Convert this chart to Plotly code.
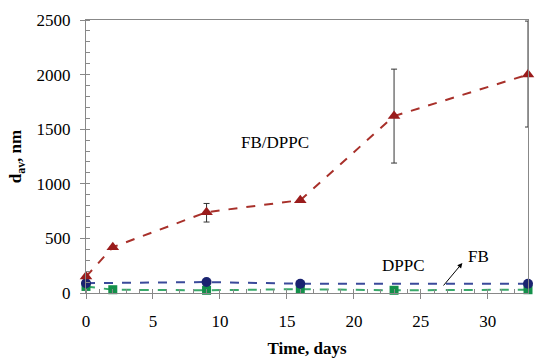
import plotly.graph_objects as go

t_fbdppc = [0, 2, 9, 16, 23, 33]
d_fbdppc = [150, 420, 740, 850, 1620, 2000]
err_plus = [0, 0, 80, 0, 430, 490]
err_minus = [0, 0, 90, 0, 430, 480]

t_dppc = [0, 9, 16, 33]
d_dppc = [90, 100, 85, 85]

t_fb = [0, 2, 9, 16, 23, 33]
d_fb = [60, 30, 25, 35, 25, 30]

serif = "Liberation Serif, Times New Roman, serif"

fig = go.Figure()
fig.add_trace(go.Scatter(
    x=t_fb, y=d_fb, mode="lines+markers",
    line=dict(color="#3aa86a", width=2, dash="dash"),
    marker=dict(symbol="square", size=9, color="#13904a"),
    cliponaxis=False, showlegend=False))
fig.add_trace(go.Scatter(
    x=t_dppc, y=d_dppc, mode="lines+markers",
    line=dict(color="#3a4a9a", width=2, dash="dash"),
    marker=dict(symbol="circle", size=10, color="#1a2370"),
    cliponaxis=False, showlegend=False))
fig.add_trace(go.Scatter(
    x=t_fbdppc, y=d_fbdppc, mode="lines+markers",
    line=dict(color="#a8302a", width=2, dash="dash"),
    marker=dict(symbol="triangle-up", size=11, color="#9a1c1c"),
    error_y=dict(type="data", array=err_plus, arrayminus=err_minus,
                 color="#333333", thickness=1, width=3),
    cliponaxis=False, showlegend=False))

fig.add_annotation(x=14.1, y=1374, text="FB/DPPC", showarrow=False,
                   font=dict(family=serif, size=17, color="black"))
fig.add_annotation(x=23.7, y=256, text="DPPC", showarrow=False,
                   font=dict(family=serif, size=17, color="black"))
fig.add_annotation(x=29.3, y=330, text="FB", showarrow=False,
                   font=dict(family=serif, size=17, color="black"))
fig.add_annotation(x=28.1, y=275, ax=26.6, ay=55, axref="x", ayref="y",
                   text="", showarrow=True, arrowhead=2, arrowsize=1,
                   arrowwidth=1, arrowcolor="black")

fig.update_layout(
    width=535, height=358,
    margin=dict(l=86, r=7, t=20, b=65, autoexpand=False),
    plot_bgcolor="white", paper_bgcolor="white",
    font=dict(family=serif, size=17, color="black"),
    xaxis=dict(range=[0, 33], tickmode="linear", tick0=0, dtick=5,
               showgrid=False, zeroline=False,
               showline=True, linecolor="#888888", linewidth=1, mirror=True,
               ticks="outside", ticklen=5, tickcolor="#888888",
               ticklabelstandoff=8,
               minor=dict(ticks="inside", dtick=1, ticklen=4, tickcolor="#888888"),
               title=dict(text="<b>Time, days</b>", font=dict(size=17), standoff=14)),
    yaxis=dict(range=[0, 2500], tickmode="linear", tick0=0, dtick=500,
               showgrid=False, zeroline=False,
               showline=True, linecolor="#888888", linewidth=1, mirror=True,
               ticks="outside", ticklen=5, tickcolor="#888888",
               ticklabelstandoff=6,
               minor=dict(ticks="inside", dtick=100, ticklen=4, tickcolor="#888888"),
               title=dict(text="<b>d<sub>av</sub>, nm</b>", font=dict(size=17), standoff=10)),
)

fig.write_html("out.html", config={"displayModeBar": False},
               post_script="document.body.style.margin='0';document.body.style.overflow='hidden';")
